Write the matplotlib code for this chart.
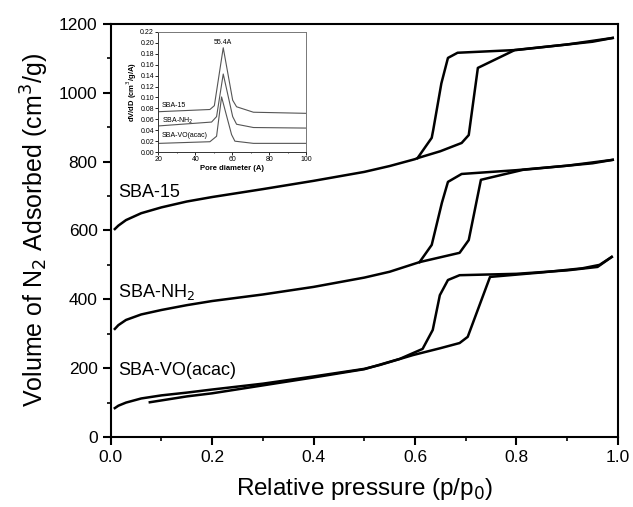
import matplotlib
matplotlib.use("Agg")
import matplotlib.pyplot as plt
from matplotlib.ticker import MultipleLocator

plt.rcParams['font.family'] = ['Liberation Sans', 'DejaVu Sans']

# --- main isotherms (relative pressure, volume adsorbed) ---
sba15_ads_x = [0.008, 0.015, 0.03, 0.06, 0.1, 0.15, 0.2, 0.3, 0.4, 0.5, 0.55, 0.6, 0.605, 0.65, 0.692, 0.706, 0.724, 0.797, 0.9, 0.95, 0.99]
sba15_ads_y = [604, 614, 630, 650, 667, 684, 697, 720, 744, 770, 787, 807, 810, 830, 854, 877, 1072, 1124, 1140, 1148, 1159]
sba15_des_x = [0.99, 0.9, 0.8, 0.684, 0.665, 0.652, 0.636, 0.633, 0.605]
sba15_des_y = [1159, 1140, 1124, 1116, 1101, 1027, 892, 869, 810]

nh2_ads_x = [0.008, 0.015, 0.03, 0.06, 0.1, 0.15, 0.2, 0.3, 0.4, 0.5, 0.55, 0.609, 0.65, 0.688, 0.706, 0.73, 0.813, 0.9, 0.95, 0.99]
nh2_ads_y = [314, 325, 340, 356, 369, 383, 395, 414, 436, 463, 480, 508, 522, 535, 572, 747, 776, 788, 795, 805]
nh2_des_x = [0.99, 0.9, 0.8, 0.692, 0.665, 0.653, 0.633, 0.609]
nh2_des_y = [805, 788, 775, 764, 741, 680, 558, 508]

vo_ads_x = [0.008, 0.015, 0.03, 0.06, 0.1, 0.15, 0.2, 0.3, 0.4, 0.5, 0.53, 0.596, 0.65, 0.688, 0.704, 0.748, 0.85, 0.93, 0.964, 0.988]
vo_ads_y = [84, 91, 100, 112, 121, 129, 138, 155, 176, 198, 209, 238, 258, 273, 291, 465, 478, 490, 500, 523]
vo_des_x = [0.988, 0.96, 0.9, 0.8, 0.688, 0.665, 0.649, 0.635, 0.615, 0.57, 0.5, 0.4, 0.3, 0.2, 0.15, 0.077]
vo_des_y = [523, 494, 484, 474, 470, 456, 412, 311, 256, 227, 197, 173, 150, 127, 118, 101]

# --- inset pore size distributions ---
psd15_x = [20.5, 47.9, 50.3, 55.1, 60.2, 62.3, 71.4, 99.6]
psd15_y = [0.074, 0.078, 0.085, 0.191, 0.095, 0.083, 0.073, 0.071]
psdnh2_x = [20.5, 48.8, 51.5, 55.1, 60.2, 62.3, 71.4, 99.6]
psdnh2_y = [0.048, 0.055, 0.065, 0.143, 0.065, 0.051, 0.045, 0.044]
psdvo_x = [20.5, 47.9, 51.5, 54.2, 59.6, 61.4, 71.4, 99.6]
psdvo_y = [0.016, 0.019, 0.029, 0.101, 0.032, 0.020, 0.016, 0.016]

fig = plt.figure(figsize=(6.33, 5.07), dpi=100)
ax = fig.add_axes([0.175, 0.138, 0.801, 0.815])

lw = 1.8
for xs, ys in [(sba15_ads_x, sba15_ads_y), (sba15_des_x, sba15_des_y),
               (nh2_ads_x, nh2_ads_y), (nh2_des_x, nh2_des_y),
               (vo_ads_x, vo_ads_y), (vo_des_x, vo_des_y)]:
    ax.plot(xs, ys, color='black', lw=lw, solid_joinstyle='round')

ax.set_xlim(0, 1.0)
ax.set_ylim(0, 1200)
ax.xaxis.set_major_locator(MultipleLocator(0.2))
ax.xaxis.set_minor_locator(MultipleLocator(0.1))
ax.yaxis.set_major_locator(MultipleLocator(200))
ax.yaxis.set_minor_locator(MultipleLocator(100))
ax.xaxis.set_major_formatter(matplotlib.ticker.FormatStrFormatter('%.1f'))
ax.tick_params(which='major', direction='out', length=6, width=1.5, labelsize=12.5)
ax.tick_params(which='minor', direction='out', length=3, width=1.2)
ax.tick_params(top=False, right=False)
for s in ax.spines.values():
    s.set_linewidth(1.5)
ax.set_xlabel('Relative pressure (p/p$_0$)', fontsize=17.5, labelpad=8)
ax.set_ylabel('Volume of N$_2$ Adsorbed (cm$^3$/g)', fontsize=18, labelpad=6)

ax.text(0.014, 709, 'SBA-15', fontsize=13, va='center', ha='left')
ax.text(0.014, 421, 'SBA-NH$_2$', fontsize=13, va='center', ha='left')
ax.text(0.014, 192, 'SBA-VO(acac)', fontsize=13, va='center', ha='left')

# inset
ins = fig.add_axes([0.250, 0.700, 0.234, 0.237])
gray = '#555555'
ins.plot(psd15_x, psd15_y, color=gray, lw=0.8)
ins.plot(psdnh2_x, psdnh2_y, color=gray, lw=0.8)
ins.plot(psdvo_x, psdvo_y, color=gray, lw=0.8)
ins.set_xlim(20, 100)
ins.set_ylim(0, 0.22)
ins.xaxis.set_major_locator(MultipleLocator(20))
ins.xaxis.set_minor_locator(MultipleLocator(10))
ins.yaxis.set_major_locator(MultipleLocator(0.02))
ins.yaxis.set_major_formatter(matplotlib.ticker.FormatStrFormatter('%.2f'))
ins.tick_params(which='major', direction='out', length=2, width=0.6, labelsize=5, pad=1)
ins.tick_params(which='minor', direction='out', length=1, width=0.5)
for s in ins.spines.values():
    s.set_linewidth(0.7)
    s.set_color('#777777')
ins.spines['left'].set_color('#333333')
ins.spines['bottom'].set_color('#333333')
ins.set_xlabel('Pore diameter (A)', fontsize=5.5, labelpad=1, fontweight='bold')
ins.set_ylabel('dV/dD (cm$^3$/g/A)', fontsize=5.5, labelpad=1, fontweight='bold')
ins.text(21.8, 0.085, 'SBA-15', fontsize=5, va='center', ha='left')
ins.text(21.8, 0.057, 'SBA-NH$_2$', fontsize=5, va='center', ha='left')
ins.text(21.8, 0.030, 'SBA-VO(acac)', fontsize=5, va='center', ha='left')
ins.text(55.1, 0.201, '55.4A', fontsize=5, va='center', ha='center')

fig.savefig('out.png', dpi=100)
